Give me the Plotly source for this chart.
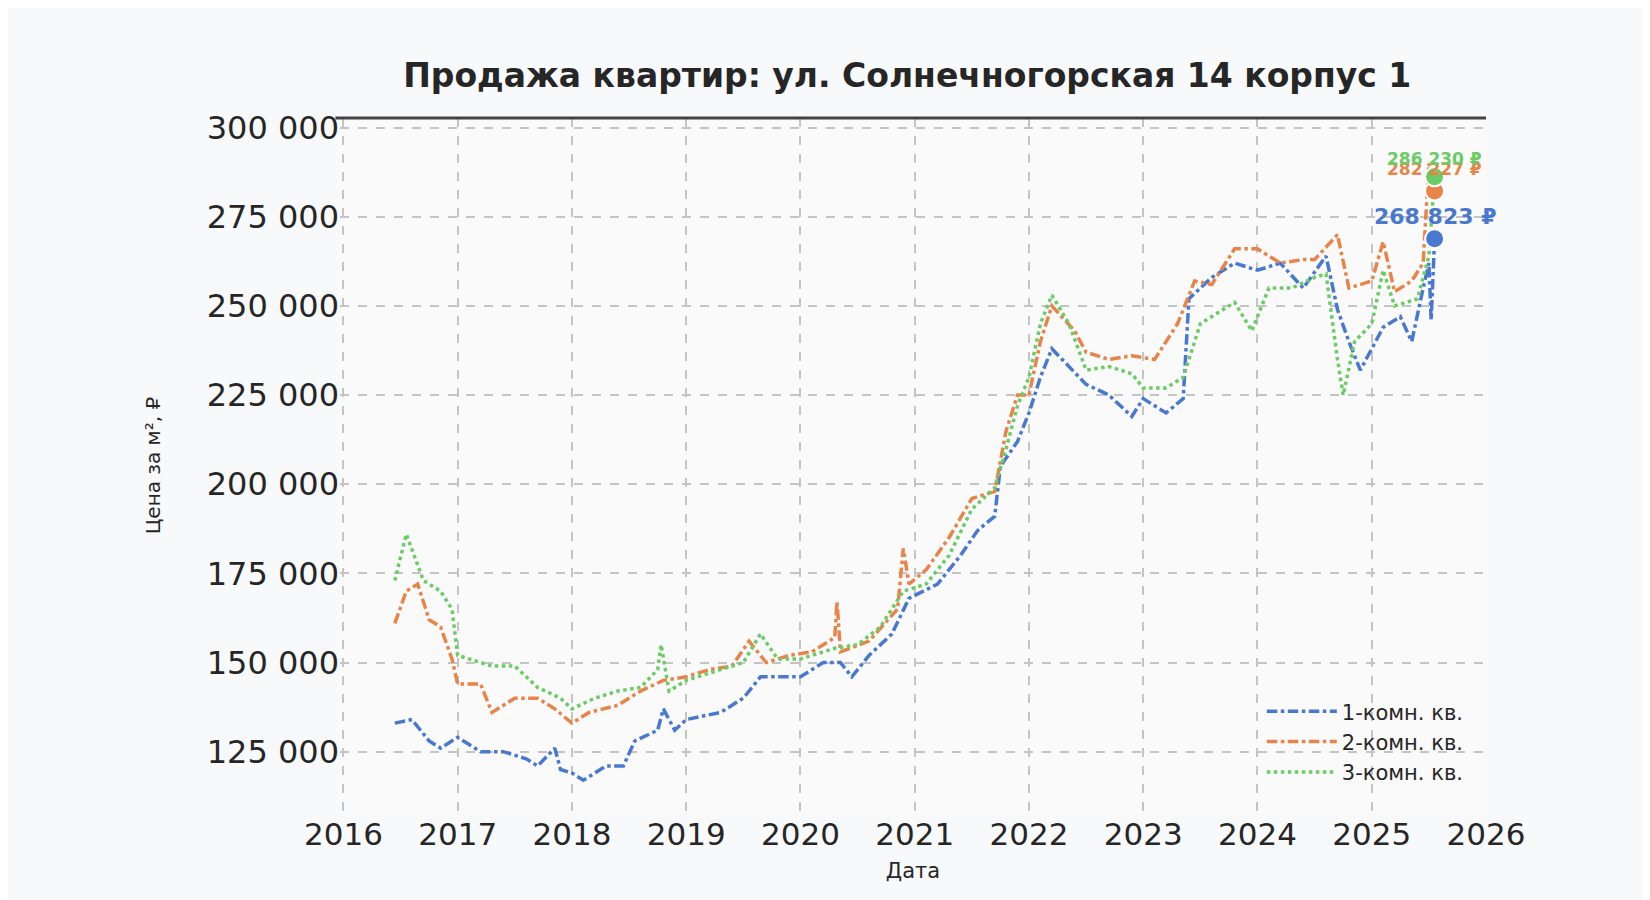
import plotly.graph_objects as go

t1 = [2016.45,2016.6,2016.75,2016.85,2017.0,2017.2,2017.4,2017.6,2017.7,2017.85,2017.9,2018.0,2018.1,2018.3,2018.45,2018.55,2018.75,2018.8,2018.9,2019.0,2019.3,2019.5,2019.65,2019.8,2020.0,2020.2,2020.35,2020.45,2020.6,2020.8,2020.95,2021.2,2021.4,2021.55,2021.7,2021.75,2021.9,2022.0,2022.1,2022.2,2022.35,2022.5,2022.7,2022.9,2023.0,2023.2,2023.35,2023.4,2023.6,2023.8,2024.0,2024.2,2024.4,2024.6,2024.7,2024.8,2024.9,2025.1,2025.25,2025.35,2025.45,2025.5,2025.52,2025.55]
v1 = [133000,134000,128000,126000,129000,125000,125000,123000,121000,126000,120000,119000,117000,121000,121000,128000,131000,137000,131000,134000,136000,140000,146000,146000,146000,150000,150000,146000,152000,158000,168000,172000,180000,187000,191000,205000,212000,220000,230000,238000,233000,228000,225000,219000,224000,220000,224000,252000,258000,262000,260000,262000,255000,264000,249000,240000,232000,244000,247000,240000,255000,262000,246000,268823]

t2 = [2016.45,2016.55,2016.65,2016.75,2016.85,2016.95,2017.0,2017.2,2017.3,2017.5,2017.7,2017.85,2018.0,2018.15,2018.4,2018.6,2018.8,2019.0,2019.2,2019.4,2019.55,2019.7,2019.9,2020.1,2020.3,2020.32,2020.35,2020.6,2020.85,2020.9,2020.95,2021.1,2021.3,2021.5,2021.7,2021.8,2021.9,2022.0,2022.1,2022.2,2022.4,2022.5,2022.7,2022.9,2023.1,2023.3,2023.45,2023.6,2023.8,2024.0,2024.2,2024.4,2024.5,2024.7,2024.8,2025.0,2025.1,2025.2,2025.35,2025.45,2025.5,2025.55]
v2 = [161000,170000,172000,162000,160000,151000,144000,144000,136000,140000,140000,137000,133000,136000,138000,142000,145000,146000,148000,149000,156000,150000,152000,153000,157000,167000,153000,156000,165000,182000,172000,176000,185000,196000,198000,215000,225000,225000,240000,250000,243000,237000,235000,236000,235000,245000,257000,256000,266000,266000,262000,263000,263000,270000,255000,257000,268000,254000,257000,262000,290000,282227]

t3 = [2016.45,2016.55,2016.7,2016.85,2016.95,2017.0,2017.3,2017.5,2017.7,2017.9,2018.0,2018.2,2018.4,2018.6,2018.75,2018.78,2018.85,2019.0,2019.2,2019.5,2019.65,2019.8,2020.0,2020.3,2020.5,2020.7,2020.9,2021.1,2021.3,2021.5,2021.7,2021.8,2021.9,2022.0,2022.1,2022.2,2022.35,2022.5,2022.7,2022.9,2023.0,2023.2,2023.35,2023.5,2023.65,2023.8,2023.95,2024.1,2024.3,2024.5,2024.6,2024.7,2024.75,2024.85,2025.0,2025.1,2025.2,2025.4,2025.5,2025.55]
v3 = [173000,186000,173000,170000,165000,152000,149000,149000,143000,140000,137000,140000,142000,143000,148000,155000,142000,145000,147000,150000,158000,151000,151000,154000,155000,160000,170000,172000,180000,193000,199000,210000,222000,230000,245000,253000,245000,232000,233000,231000,227000,227000,230000,245000,248000,251000,243000,255000,255000,258000,259000,235000,225000,240000,245000,260000,250000,252000,264000,286230]

names = ["1-комн. кв.", "2-комн. кв.", "3-комн. кв."]
colors = ["#4878cf", "#e8844a", "#6acc64"]
dashes = ["dashdot", "dashdot", "dot"]
labels = ["268 823 ₽", "282 227 ₽", "286 230 ₽"]
yticks = [125000, 150000, 175000, 200000, 225000, 250000, 275000, 300000]
xticks = list(range(2016, 2027))

fig = go.Figure()
for t, v, n, c, d in zip([t1, t2, t3], [v1, v2, v3], names, colors, dashes):
    fig.add_trace(go.Scatter(x=t, y=v, name=n, mode="lines", line=dict(color=c, width=3.5, dash=d)))
for t, v, c, lab, i in zip([t1, t2, t3], [v1, v2, v3], colors, labels, range(3)):
    fig.add_trace(go.Scatter(x=[t[-1]], y=[v[-1]], mode="markers", showlegend=False,
                             marker=dict(color=c, size=19, line=dict(color="white", width=2))))
    big = i == 0
    fig.add_annotation(x=t[-1], y=v[-1], text=f"<b>{lab}</b>", showarrow=False,
                       font=dict(color=c, size=22 if big else 17, family="DejaVu Sans"),
                       xanchor="center", yanchor="bottom", yshift=[8, 10, 6][i])

fig.add_shape(type="line", xref="paper", yref="paper", x0=-0.004, x1=1, y0=1, y1=1,
              line=dict(color="#444444", width=3))

fig.update_layout(
    width=1650, height=900,
    paper_bgcolor="#f8f9fb", plot_bgcolor="#fafafa",
    margin=dict(l=332, r=172, t=110, b=95),
    font=dict(family="DejaVu Sans", color="#262626"),
    title=dict(text="<b>Продажа квартир: ул. Солнечногорская 14 корпус 1</b>", x=0.545, xanchor="center",
               y=0.925, yanchor="middle", font=dict(size=33, color="#262626")),
    legend=dict(x=0.985, y=0.03, xanchor="right", yanchor="bottom", bgcolor="rgba(0,0,0,0)",
                font=dict(size=21), itemwidth=70),
    xaxis=dict(range=[2015.97, 2026], tickvals=xticks, ticktext=[str(x) for x in xticks],
               tickfont=dict(size=31), showgrid=True, gridcolor="#c4c4c4", griddash="dash", gridwidth=2,
               zeroline=False, showline=False, title=dict(text="Дата", font=dict(size=21), standoff=12)),
    yaxis=dict(range=[107800, 302700], tickvals=yticks,
               ticktext=[f"{y:,}".replace(",", " ") for y in yticks],
               tickfont=dict(size=32), showgrid=True, gridcolor="#c4c4c4", griddash="dash", gridwidth=2,
               zeroline=False, showline=False, ticks="", ticklen=0,
               title=dict(text="Цена за м², ₽", font=dict(size=20), standoff=40)),
)
fig.write_html("out.html")
